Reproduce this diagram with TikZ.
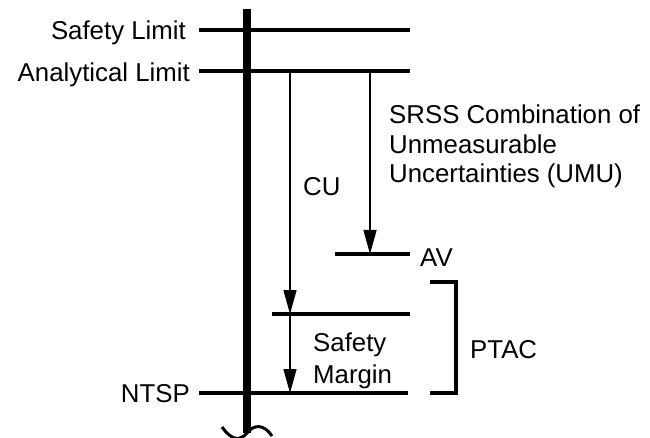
\documentclass[tikz,border=0pt]{standalone}
\usepackage{fontspec}
\setmainfont{Liberation Sans}
\usetikzlibrary{arrows.meta}

\begin{document}
\begin{tikzpicture}[x=1pt,y=-1pt,
            level/.style={line width=3.3pt},
            arr/.style={line width=1.4pt,-{Triangle[length=24pt,width=13pt]}},
            lbl/.style={inner sep=0pt,font=\fontsize{25.8}{30}\selectfont}]
            \useasboundingbox (0,0) rectangle (650,438);

            % Levels
            \coordinate (sl-l) at (199,30);   \coordinate (sl-r) at (410,30);
            \coordinate (al-l) at (199,71);   \coordinate (al-r) at (410,71);
            \coordinate (av-l) at (335,254);  \coordinate (av-r) at (410,254);
            \coordinate (pt-l) at (272,314);  \coordinate (pt-r) at (410,314);
            \coordinate (ns-l) at (199,393);  \coordinate (ns-r) at (408,393);
            \draw[level] (sl-l) -- (sl-r);
            \draw[level] (al-l) -- (al-r);
            \draw[level] (av-l) -- (av-r);
            \draw[level] (pt-l) -- (pt-r);
            \draw[level] (ns-l) -- (ns-r);

            % Axis with break
            \coordinate (ax-top) at (247,9);
            \coordinate (ax-bot) at (247,433);
            \draw[line width=8pt] (ax-top) -- (ax-bot);
            \draw[line width=3pt] (222,427) .. controls (232,441) and (240,441) .. (247,433)
                .. controls (254,424) and (264,424) .. (272,436);

            % Nodes
            \node[lbl, anchor=base east] (sl) at (186,40) {Safety Limit};
            \node[lbl, anchor=base east] (al) at (190,82) {Analytical Limit};
            \node[lbl, anchor=base east] (ns) at (190,402) {NTSP};
            \node[lbl, anchor=base west] (cu) at (303,196) {CU};
            \node[lbl, anchor=base west] (av) at (420,266) {AV};
            \node[lbl, anchor=base west, align=left, font=\fontsize{25.8}{29.5}\selectfont] (umu) at (389,183)
                {SRSS Combination of\\Unmeasurable\\Uncertainties (UMU)};
            \node[lbl, anchor=base west, align=left, font=\fontsize{25.8}{31.5}\selectfont] (sm) at (313,383)
                {Safety\\Margin};
            \node[lbl, anchor=base west] (ptac) at (470,358) {PTAC};

            % Edges
            \coordinate (cu-a) at (290,71);  \coordinate (cu-b) at (290,314);
            \coordinate (umu-a) at (370,71); \coordinate (umu-b) at (370,254);
            \coordinate (sm-b) at (290,393);
            \draw[arr] (cu-a) -- (cu-b);
            \draw[arr] (umu-a) -- (umu-b);
            \draw[arr] (cu-b) -- (sm-b);
            \draw[level] (430,282) -| (456,393) -- (430,393);
        \end{tikzpicture}
\end{document}
